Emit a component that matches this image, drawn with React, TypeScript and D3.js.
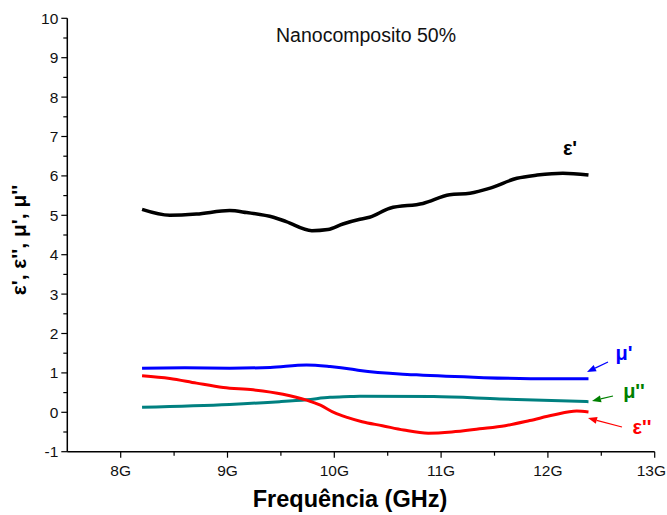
import React from "react";
import * as d3 from "d3";

// Frequency in GHz, X band sweep
const epsRealF = [8.2, 8.46, 8.71, 9.02, 9.18, 9.43, 9.55, 9.79, 9.94, 10.08, 10.24, 10.33, 10.52, 10.83, 11.08, 11.27, 11.46, 11.71, 11.9, 12.14, 12.38];
const epsRealV = [5.15, 5.0, 5.03, 5.12, 5.07, 4.95, 4.84, 4.61, 4.64, 4.78, 4.9, 4.95, 5.18, 5.3, 5.52, 5.56, 5.69, 5.94, 6.02, 6.07, 6.02];

const muRealF = [8.2, 8.6, 9.02, 9.4, 9.74, 9.96, 10.15, 10.24, 10.77, 11.4, 12.02, 12.38];
const muRealV = [1.12, 1.13, 1.12, 1.14, 1.2, 1.16, 1.1, 1.06, 0.95, 0.88, 0.85, 0.85];

const muImagF = [8.2, 9.02, 9.49, 9.74, 9.96, 10.15, 10.24, 10.93, 11.55, 12.38];
const muImagV = [0.13, 0.2, 0.27, 0.32, 0.38, 0.4, 0.41, 0.4, 0.34, 0.27];

const epsImagF = [8.2, 8.46, 8.71, 8.96, 9.24, 9.52, 9.74, 9.87, 10.0, 10.12, 10.26, 10.45, 10.65, 10.88, 11.1, 11.36, 11.6, 11.83, 12.05, 12.27, 12.38];
const epsImagV = [0.93, 0.86, 0.74, 0.63, 0.57, 0.46, 0.31, 0.18, -0.01, -0.13, -0.24, -0.34, -0.45, -0.53, -0.5, -0.42, -0.34, -0.21, -0.07, 0.03, 0.01];

const xMajor = [8, 9, 10, 11, 12, 13];
const xLabels = ["8G", "9G", "10G", "11G", "12G", "13G"];
const yMajor = [-1, 0, 1, 2, 3, 4, 5, 6, 7, 8, 9, 10];

const W = 667;
const H = 515;

export default function App() {
  const x = d3.scaleLinear().domain([7.5, 13]).range([67.3, 654.7]);
  const y = d3.scaleLinear().domain([-1, 10]).range([451.7, 18.3]);

  const line = (fs: number[], vs: number[]) =>
    d3
      .line<number>()
      .x((_, i) => x(fs[i]))
      .y((v) => y(v))
      .curve(d3.curveMonotoneX)(vs) as string;

  const xMinor = d3.range(8.5, 13, 1);
  const yMinor = d3.range(-0.5, 10, 1);
  const font = "'Liberation Sans', Arial, sans-serif";

  const arrow = (x1: number, y1: number, x2: number, y2: number, color: string) => {
    const ang = Math.atan2(y2 - y1, x2 - x1);
    const L = 9;
    const wH = 3.5;
    const bx = x2 - L * Math.cos(ang);
    const by = y2 - L * Math.sin(ang);
    const px = -Math.sin(ang) * wH;
    const py = Math.cos(ang) * wH;
    return (
      <g>
        <line x1={x1} y1={y1} x2={bx} y2={by} stroke={color} strokeWidth={1.2} />
        <polygon points={`${x2},${y2} ${bx + px},${by + py} ${bx - px},${by - py}`} fill={color} />
      </g>
    );
  };

  return (
    <svg width={W} height={H} style={{ position: "absolute", left: 0, top: 0, background: "#fff" }} fontFamily={font}>
      <rect width={W} height={H} fill="#fff" />
      {/* axes */}
      <line x1={x(7.5)} x2={x(13)} y1={y(-1)} y2={y(-1)} stroke="#000" strokeWidth={1.5} />
      <line x1={x(7.5)} x2={x(7.5)} y1={y(-1)} y2={y(10)} stroke="#000" strokeWidth={1.5} />
      {xMajor.map((v, i) => {
        const last = i === xMajor.length - 1;
        return (
          <g key={"xm" + v}>
            <line x1={x(v)} x2={x(v)} y1={y(-1)} y2={y(-1) + 6} stroke="#000" strokeWidth={1.2} />
            <text
              x={last ? W - 1 : x(v)}
              y={y(-1) + 24}
              fontSize={15.5}
              textAnchor={last ? "end" : "middle"}
              fill="#111"
            >
              {xLabels[i]}
            </text>
          </g>
        );
      })}
      {xMinor.map((v) => (
        <line key={"xn" + v} x1={x(v)} x2={x(v)} y1={y(-1)} y2={y(-1) + 4} stroke="#000" strokeWidth={1.2} />
      ))}
      {yMajor.map((v) => (
        <g key={"ym" + v}>
          <line x1={x(7.5) - 6} x2={x(7.5)} y1={y(v)} y2={y(v)} stroke="#000" strokeWidth={1.2} />
          <text x={x(7.5) - 9} y={y(v) + 5.5} fontSize={15.5} textAnchor="end" fill="#111">
            {v}
          </text>
        </g>
      ))}
      {yMinor.map((v) => (
        <line key={"yn" + v} x1={x(7.5) - 4} x2={x(7.5)} y1={y(v)} y2={y(v)} stroke="#000" strokeWidth={1.2} />
      ))}

      {/* curves */}
      <path d={line(muImagF, muImagV)} fill="none" stroke="#008080" strokeWidth={3} />
      <path d={line(muRealF, muRealV)} fill="none" stroke="#0000ff" strokeWidth={3} />
      <path d={line(epsImagF, epsImagV)} fill="none" stroke="#ff0000" strokeWidth={3} />
      <path d={line(epsRealF, epsRealV)} fill="none" stroke="#000" strokeWidth={3.5} />

      {/* labels */}
      <text x={366} y={42} fontSize={19.5} textAnchor="middle" fill="#111">
        Nanocomposito 50%
      </text>
      <text x={570} y={155} fontSize={20} fontWeight="bold" textAnchor="middle" fill="#000">
        ε'
      </text>
      <text x={624} y={360} fontSize={20} fontWeight="bold" textAnchor="middle" fill="#0000ff">
        μ'
      </text>
      {arrow(608, 362, 587, 372, "#0000ff")}
      <text x={634} y={398} fontSize={20} fontWeight="bold" textAnchor="middle" fill="#008000">
        μ''
      </text>
      {arrow(613, 396, 592, 401, "#008000")}
      <text x={642} y={434} fontSize={20} fontWeight="bold" textAnchor="middle" fill="#ff0000">
        ε''
      </text>
      {arrow(622, 427, 588, 418, "#ff0000")}

      <text x={350} y={507} fontSize={23.5} fontWeight="bold" textAnchor="middle" fill="#000">
        Frequência (GHz)
      </text>
      <text
        transform={`translate(26, 240) rotate(-90)`}
        fontSize={21}
        fontWeight="bold"
        textAnchor="middle"
        fill="#000"
      >
        ε', ε'', μ', μ''
      </text>
    </svg>
  );
}
